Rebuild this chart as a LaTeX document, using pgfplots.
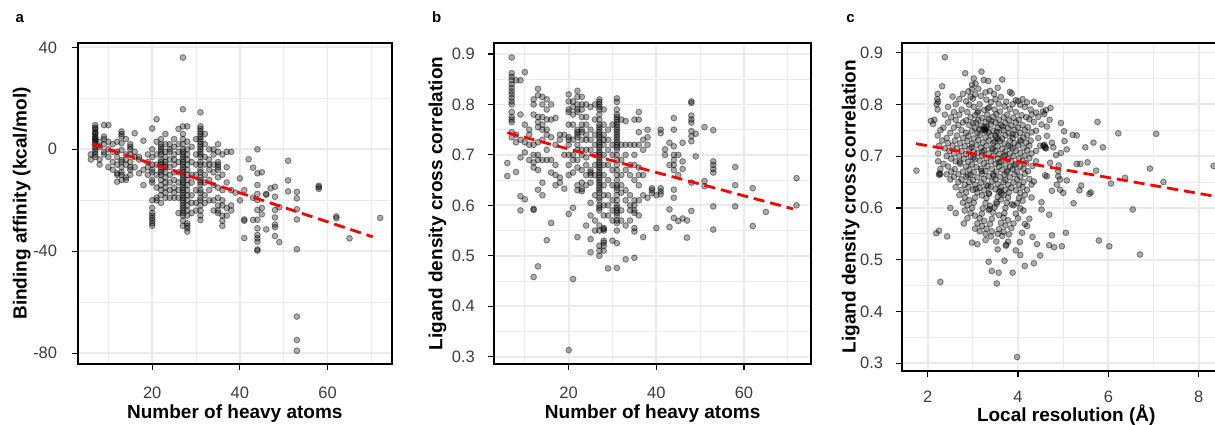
\documentclass[border=0pt]{standalone}
\usepackage{pgfplots}
\pgfplotsset{compat=1.18}
\usepackage{fontspec}
\setmainfont{Liberation Sans}
\definecolor{gridc}{RGB}{235,235,235}
\definecolor{tickc}{RGB}{60,60,60}
\pgfplotsset{
 myax/.style={
   scale only axis,
   anchor=south west,
   axis line style={line width=2.2pt, black},
   tick align=outside,
   xtick pos=left, ytick pos=left,
   major tick length=6pt,
   minor tick length=0pt,
   major tick style={line width=1.2pt, black},
   grid=both,
   major grid style={draw=gridc, line width=1.7pt},
   minor grid style={draw=gridc, line width=0.9pt},
   xticklabel style={font=\fontsize{16.5}{18}\selectfont, text=tickc, inner sep=0pt, anchor=north},
   yticklabel style={font=\fontsize{16.5}{18}\selectfont, text=tickc, inner sep=0pt, anchor=east},
   label style={font=\bfseries\fontsize{19}{21}\selectfont},
   clip marker paths=true,
 },
 pts/.style={only marks, mark=*, mark size=2.9pt, mark options={draw=black, fill=black, draw opacity=0.42, fill opacity=0.32, line width=0.9pt}},
 fitl/.style={red, line width=2.8pt, dash pattern=on 11pt off 6pt, no marks},
}
\begin{document}
\begin{tikzpicture}
\useasboundingbox (0,0) rectangle (1215pt,425pt);
\clip (0,0) rectangle (1215pt,425pt);
\node[font=\bfseries\fontsize{15}{16}\selectfont, anchor=base] at (19.9pt,402pt) {a};
\node[font=\bfseries\fontsize{15}{16}\selectfont, anchor=base] at (436.8pt,402pt) {b};
\node[font=\bfseries\fontsize{15}{16}\selectfont, anchor=base] at (850.5pt,402pt) {c};
% ---------------- panel a
\begin{axis}[myax,
  at={(77.7pt,61pt)}, width=314.3pt, height=321pt,
  xmin=3.0, xmax=74.7, ymin=-84.2, ymax=41.7,
  xtick={20,40,60}, xticklabels={20,40,60},
  minor xtick={10,30,50,70},
  ytick={-80,-40,0,40}, yticklabels={-80,-40,0,40},
  minor ytick={-60,-20,20},
  xticklabel style={yshift=-16.8pt},
  yticklabel style={xshift=-14.4pt},
  xlabel={Number of heavy atoms},
  ylabel={Binding affinity (kcal/mol)},
  xlabel style={at={([yshift=-49.3pt]axis description cs:0.5,0)}, anchor=center},
  ylabel style={at={([xshift=-56pt]axis description cs:0,0.5)}, anchor=center, rotate=0},
]
\addplot[pts] coordinates {
(6,-2)(6,-4)
(7,9.5)(7,8.5)(7,8)(7,7)(7,6)(7,5)(7,4.5)(7,4)(7,3)(7,2)(7,1)(7,0)(7,-1)(7,-2)(7,-3)(7,6.5)(7,3.5)
(8,-4)(8,-6)(8,1)(8,3)
(9,9.5)(9,5)(9,4)(9,2)(9,-2)(9,-1)
(10,9.5)(10,3)(10,-3)(10,-7)(10,0)
(11,2)(11,-5)(11,-8)(11,-1)
(12,3)(12,-3)(12,-6)(12,-9.4)(12,-12.7)(12,-1)(12,-10)
(13,7)(13,6)(13,5)(13,2.4)(13,-0.3)(13,-4.2)(13,-5)(13,-7)(13,-9)(13,-10)(13,-12)
(14,4)(14,-2)(14,-6)(14,-11)(14,-12)(14,-4)
(15,2)(15,1)(15,0)(15,-2)(15,-5)(15,-7)(15,-10)(15,-8)
(16,6.3)(16,-3)(16,-7)(16,-1)
(17,-3)(17,-4)(17,-9.4)
(18,3.4)(18,-8)(18,-14)
(19,-2)(19,-10)(19,-7)(19,-5)
(20,8.2)(20,0)(20,-3)(20,-6)(20,-8)(20,-12)(20,-13)(20,-20)(20,-23)(20,-25)(20,-26)(20,-27)(20,-28)(20,-29)(20,-30)(20,-9)
(21,11.8)(21,3)(21,-2)(21,-6)(21,-10)(21,-15)(21,-19)(21,-20)
(22,4)(22,2)(22,1)(22,0)(22,-1)(22,-2)(22,-4)(22,-5)(22,-6)(22,-7)(22,-8)(22,-9)(22,-10)(22,-12)(22,-14)(22,-16)(22,-18)(22,-21)
(23,6)(23,2)(23,-1)(23,-3)(23,-5)(23,-6)(23,-7)(23,-9)(23,-11)(23,-13)(23,-15)(23,-17)(23,-19)
(24,2)(24,0)(24,-1)(24,-4)(24,-7)(24,-10)(24,-13)(24,-16)(24,-19)
(25,4)(25,1)(25,-2)(25,-4)(25,-6)(25,-9)(25,-12)(25,-15)(25,-17)(25,-19)
(26,8)(26,2)(26,-1)(26,-5)(26,-9)(26,-13)(26,-16)(26,-19)(26,-25)
(27,36)(27,15.7)(27,9)(27,6)(27,4)(27,2)(27,0)(27,-1)(27,-2)(27,-3)(27,-4)(27,-5)(27,-6)(27,-7)(27,-8)(27,-9)(27,-10)(27,-11)(27,-12)(27,-13)(27,-14)(27,-15)(27,-16)(27,-17)(27,-18)(27,-19)(27,-20)(27,-21)(27,-22)(27,-23)(27,-24)(27,-25)(27,-26)(27,-28)(27,-30)
(28,9)(28,3)(28,0)(28,-2)(28,-4)(28,-6)(28,-8)(28,-10)(28,-12)(28,-14)(28,-16)(28,-18)(28,-20)(28,-22)(28,-24)(28,-26)(28,-29)(28,-30)(28,-31)(28,-32.3)
(29,1)(29,-5)(29,-10)(29,-13)(29,-18)(29,-21)(29,-25)
(30,4)(30,-2)(30,-6)(30,-10)(30,-16)(30,-21)(30,-24)
(31,14.5)(31,9)(31,8)(31,7)(31,6)(31,5)(31,4)(31,3)(31,2)(31,1)(31,0)(31,-1)(31,-2)(31,-3)(31,-5)(31,-6)(31,-8)(31,-9)(31,-11)(31,-12)(31,-13)(31,-14)(31,-16)(31,-17)(31,-19)(31,-20)(31,-22)(31,-24)(31,-26)(31,-27.7)
(32,6)(32,2)(32,-3)(32,-6)(32,-10)(32,-13)(32,-18)(32,-21)
(33,0)(33,-4)(33,-6)(33,-8)(33,-12)(33,-16)(33,-20)
(34,0)(34,-2)(34,-6)(34,-9)(34,-14)(34,-20)(34,-24)
(35,2)(35,-1)(35,-5)(35,-6)(35,-7)(35,-8)(35,-11)(35,-15)(35,-19)(35,-22)(35,-24)(35,-25)
(36,-2)(36,-10)(36,-16)(36,-20)(36,-22)(36,-26)(36,-28)(36,-30)
(37,-1)(37,-7)(37,-13)(37,-23)(37,-26)
(38,-1)(38,-16)(38,-22)(38,-24)
(39,-17)
(40,-11.4)(40,-20)
(41,-16)(41,-27.5)(41,-28)(41,-34.8)
(42,-3.9)
(43,-7.2)(43,-19)(43,-27.7)
(44,0)(44,-9.4)(44,-14)(44,-17.5)(44,-19.9)(44,-23.8)(44,-27.6)(44,-31)(44,-33.6)(44,-34.9)(44,-36.2)(44,-39.3)(44,-39.7)
(45,-9)(45,-25.5)(45,-23)
(46,-17.5)(46,-17.8)(46,-31.4)
(47,-15.3)
(48,-14.7)(48,-18.6)(48,-23.8)(48,-26.7)(48,-29.5)(48,-30.5)(48,-34)
(49,-22.7)(49,-36.4)
(51,-4.5)(51,-12.2)(51,-16.5)
(53,-16.7)(53,-19.2)(53,-23.5)(53,-27.5)(53,-39.2)(53,-65.6)(53,-74.8)(53,-79)
(58,-14.3)(58,-14.8)(58,-15.5)
(62,-26.3)(62,-27)
(65,-34.9)
(72,-26.9)
};
\addplot[fitl] coordinates {(6.3,2.1)(70.3,-34.3)};
\end{axis}
% ---------------- panel b
\begin{axis}[myax,
  at={(494.3pt,61pt)}, width=316.7pt, height=321pt,
  xmin=3.03, xmax=75.3, ymin=0.2855, ymax=0.9218,
  xtick={20,40,60}, xticklabels={20,40,60},
  minor xtick={10,30,50,70},
  ytick={0.3,0.4,0.5,0.6,0.7,0.8,0.9}, yticklabels={0.3,0.4,0.5,0.6,0.7,0.8,0.9},
  minor ytick={0.35,0.45,0.55,0.65,0.75,0.85},
  xticklabel style={yshift=-16.8pt},
  yticklabel style={xshift=-13.3pt},
  xlabel={Number of heavy atoms},
  ylabel={Ligand density cross correlation},
  xlabel style={at={([yshift=-49.3pt]axis description cs:0.5,0)}, anchor=center},
  ylabel style={at={([xshift=-56.8pt]axis description cs:0,0.5)}, anchor=center, rotate=0},
]
\addplot[pts] coordinates {
(6,0.684)(6,0.658)
(7,0.893)(7,0.862)(7,0.855)(7,0.848)(7,0.84)(7,0.833)(7,0.826)(7,0.82)(7,0.813)(7,0.806)(7,0.80)(7,0.785)(7,0.775)(7,0.77)(7,0.765)(7,0.745)(7,0.735)
(8,0.848)(8,0.725)(8,0.666)(8,0.74)
(9,0.848)(9,0.78)(9,0.73)(9,0.695)(9,0.618)(9,0.59)
(10,0.864)(10,0.76)(10,0.725)(10,0.705)(10,0.612)
(11,0.75)(11,0.74)(11,0.72)(11,0.69)
(12,0.81)(12,0.80)(12,0.78)(12,0.72)(12,0.70)(12,0.685)(12,0.675)(12,0.593)(12,0.591)(12,0.458)
(13,0.831)(13,0.818)(13,0.775)(13,0.765)(13,0.755)(13,0.725)(13,0.70)(13,0.69)(13,0.631)(13,0.479)(13,0.67)
(14,0.815)(14,0.80)(14,0.775)(14,0.76)(14,0.75)(14,0.73)(14,0.69)(14,0.62)(14,0.645)
(15,0.81)(15,0.79)(15,0.77)(15,0.75)(15,0.74)(15,0.71)(15,0.69)(15,0.531)
(16,0.80)(16,0.77)(16,0.735)(16,0.69)(16,0.565)(16,0.665)
(17,0.773)(17,0.72)(17,0.66)(17,0.64)(17,0.68)
(18,0.74)(18,0.73)(18,0.655)(18,0.645)
(19,0.70)(19,0.633)(19,0.74)
(20,0.82)(20,0.806)(20,0.79)(20,0.785)(20,0.76)(20,0.735)(20,0.72)(20,0.70)(20,0.68)(20,0.66)(20,0.583)(20,0.313)(20,0.73)
(21,0.806)(21,0.795)(21,0.78)(21,0.76)(21,0.73)(21,0.70)(21,0.69)(21,0.665)(21,0.595)(21,0.454)
(22,0.827)(22,0.815)(22,0.80)(22,0.79)(22,0.785)(22,0.75)(22,0.745)(22,0.74)(22,0.735)(22,0.72)(22,0.71)(22,0.69)(22,0.675)(22,0.64)(22,0.63)(22,0.537)
(23,0.815)(23,0.80)(23,0.79)(23,0.775)(23,0.76)(23,0.75)(23,0.745)(23,0.73)(23,0.71)(23,0.70)(23,0.67)(23,0.645)(23,0.628)(23,0.632)
(24,0.80)(24,0.775)(24,0.76)(24,0.74)(24,0.73)(24,0.71)(24,0.695)(24,0.68)(24,0.66)(24,0.64)(24,0.56)
(25,0.795)(25,0.75)(25,0.73)(25,0.71)(25,0.67)(25,0.665)(25,0.66)(25,0.645)(25,0.605)(25,0.58)(25,0.533)(25,0.507)
(26,0.80)(26,0.77)(26,0.74)(26,0.72)(26,0.70)(26,0.68)(26,0.66)(26,0.62)(26,0.55)(26,0.57)
(27,0.81)(27,0.805)(27,0.80)(27,0.795)(27,0.79)(27,0.78)(27,0.77)(27,0.76)(27,0.755)(27,0.75)(27,0.745)(27,0.74)(27,0.735)(27,0.73)(27,0.725)(27,0.72)(27,0.715)(27,0.71)(27,0.705)(27,0.70)(27,0.695)(27,0.69)(27,0.685)(27,0.68)(27,0.675)(27,0.67)(27,0.665)(27,0.66)(27,0.655)(27,0.65)(27,0.645)(27,0.64)(27,0.635)(27,0.63)(27,0.625)(27,0.615)(27,0.61)(27,0.60)(27,0.595)(27,0.59)(27,0.56)(27,0.55)(27,0.52)(27,0.51)(27,0.50)
(28,0.79)(28,0.76)(28,0.74)(28,0.73)(28,0.72)(28,0.70)(28,0.68)(28,0.66)(28,0.64)(28,0.62)(28,0.60)(28,0.58)(28,0.555)(28,0.553)(28,0.55)(28,0.53)(28,0.526)(28,0.52)(28,0.51)
(29,0.75)(29,0.73)(29,0.71)(29,0.68)(29,0.65)(29,0.62)(29,0.60)(29,0.58)(29,0.475)
(30,0.76)(30,0.72)(30,0.70)(30,0.67)(30,0.64)(30,0.61)(30,0.59)(30,0.57)(30,0.53)
(31,0.812)(31,0.805)(31,0.79)(31,0.78)(31,0.775)(31,0.77)(31,0.765)(31,0.76)(31,0.755)(31,0.75)(31,0.745)(31,0.74)(31,0.735)(31,0.73)(31,0.725)(31,0.72)(31,0.715)(31,0.71)(31,0.70)(31,0.69)(31,0.68)(31,0.67)(31,0.66)(31,0.65)(31,0.64)(31,0.635)(31,0.63)(31,0.62)(31,0.61)(31,0.60)(31,0.595)(31,0.59)(31,0.585)(31,0.58)(31,0.57)(31,0.565)(31,0.55)(31,0.525)(31,0.476)
(32,0.77)(32,0.72)(32,0.69)(32,0.66)(32,0.64)(32,0.625)(32,0.59)(32,0.57)
(33,0.767)(33,0.72)(33,0.70)(33,0.67)(33,0.63)(33,0.61)(33,0.56)(33,0.493)
(34,0.72)(34,0.68)(34,0.66)(34,0.62)(34,0.60)(34,0.59)(34,0.57)
(35,0.77)(35,0.72)(35,0.70)(35,0.68)(35,0.65)(35,0.61)(35,0.60)(35,0.59)(35,0.585)(35,0.555)(35,0.548)(35,0.496)
(36,0.785)(36,0.77)(36,0.745)(36,0.72)(36,0.675)(36,0.66)(36,0.64)(36,0.61)(36,0.58)
(37,0.73)(37,0.71)(37,0.66)(37,0.62)(37,0.537)
(38,0.75)(38,0.735)(38,0.72)(38,0.615)
(39,0.634)(39,0.624)(39,0.63)
(40,0.555)(40,0.62)
(41,0.75)(41,0.743)(41,0.634)(41,0.628)(41,0.622)
(42,0.711)(42,0.70)
(43,0.724)(43,0.592)(43,0.557)(43,0.68)
(44,0.773)(44,0.75)(44,0.717)(44,0.70)(44,0.69)(44,0.68)(44,0.67)(44,0.631)(44,0.615)(44,0.575)
(45,0.70)(45,0.569)(45,0.66)
(46,0.724)(46,0.687)(46,0.672)(46,0.574)
(47,0.536)(47,0.57)
(48,0.806)(48,0.803)(48,0.778)(48,0.77)(48,0.764)(48,0.747)(48,0.737)(48,0.727)(48,0.645)(48,0.589)
(49,0.742)(49,0.697)
(51,0.755)(51,0.648)(51,0.638)
(53,0.749)(53,0.687)(53,0.68)(53,0.672)(53,0.665)(53,0.598)(53,0.552)
(58,0.676)(58,0.64)(58,0.598)
(62,0.634)(62,0.559)
(65,0.587)
(72,0.654)(72,0.60)
};
\addplot[fitl] coordinates {(6.0,0.744)(71.2,0.593)};
\end{axis}
% ---------------- panel c
\begin{axis}[myax,
  at={(901.7pt,54.3pt)}, width=329pt, height=328pt,
  xmin=1.424, xmax=8.71, ymin=0.2857, ymax=0.919,
  xtick={2,4,6,8}, xticklabels={2,4,6,8},
  minor xtick={3,5,7},
  ytick={0.3,0.4,0.5,0.6,0.7,0.8,0.9}, yticklabels={0.3,0.4,0.5,0.6,0.7,0.8,0.9},
  minor ytick={0.35,0.45,0.55,0.65,0.75,0.85},
  xticklabel style={yshift=-14pt},
  yticklabel style={xshift=-12.4pt},
  xlabel={Local resolution (Å)},
  ylabel={Ligand density cross correlation},
  xlabel style={at={([yshift=-44.3pt]axis description cs:0.5,0)}, anchor=center},
  ylabel style={at={([xshift=-50.9pt]axis description cs:0,0.5)}, anchor=center, rotate=0},
]
\addplot[pts] coordinates {
(2.38,0.891)(3.98,0.312)(2.28,0.457)
(2.83,0.86)(3.19,0.863)
(3.02,0.85)(3.24,0.847)(3.65,0.848)(3.34,0.845)
(2.98,0.838)(2.32,0.835)(3.06,0.84)
(2.98,0.829)(3.12,0.83)(3.55,0.832)
(2.90,0.825)(3.38,0.826)(3.82,0.824)(3.28,0.823)
(2.22,0.82)(2.78,0.82)(3.05,0.819)(3.47,0.82)(3.86,0.821)
(2.55,0.815)(3.18,0.816)(3.62,0.814)(2.95,0.815)
(2.21,0.81)(2.70,0.81)(3.00,0.811)(3.30,0.809)(3.50,0.81)(3.95,0.808)(4.10,0.81)
(2.23,0.805)(2.85,0.806)(3.40,0.804)(3.74,0.805)(4.00,0.806)(4.20,0.804)(4.35,0.805)
(2.20,0.80)(2.62,0.80)(2.92,0.799)(3.15,0.80)(3.57,0.801)(3.88,0.80)(4.05,0.799)(4.50,0.80)
(2.45,0.795)(3.02,0.795)(3.36,0.794)(3.70,0.796)(4.15,0.795)(4.72,0.793)
(2.22,0.79)(2.75,0.79)(3.25,0.789)(3.48,0.79)(3.82,0.791)(4.28,0.79)(4.62,0.789)(4.55,0.786)
(2.58,0.785)(2.88,0.785)(3.10,0.784)(3.60,0.786)(3.95,0.785)(4.40,0.784)
(2.38,0.78)(2.70,0.78)(3.05,0.779)(3.32,0.78)(3.52,0.781)(3.76,0.78)(4.08,0.779)(4.30,0.78)(4.58,0.781)
(2.52,0.775)(2.95,0.775)(3.20,0.774)(3.45,0.776)(3.68,0.775)(3.90,0.774)(4.18,0.775)(4.45,0.776)
(2.15,0.77)(2.62,0.77)(2.85,0.769)(3.12,0.77)(3.35,0.771)(3.58,0.77)(3.80,0.769)(4.02,0.77)(4.25,0.771)(4.70,0.77)
(2.07,0.768)(2.45,0.765)(2.78,0.765)(3.00,0.764)(3.28,0.766)(3.50,0.765)(3.72,0.764)(3.95,0.765)(4.35,0.766)(4.95,0.764)(5.76,0.766)
(2.12,0.762)(2.68,0.76)(2.92,0.76)(3.18,0.759)(3.40,0.761)(3.62,0.76)(3.85,0.759)(4.10,0.76)(4.52,0.761)
(2.35,0.755)(2.58,0.755)(3.05,0.754)(3.25,0.756)(3.30,0.753)(3.55,0.755)(3.78,0.754)(4.00,0.755)(4.22,0.756)(4.64,0.757)
(2.28,0.75)(2.75,0.75)(2.98,0.749)(3.22,0.751)(3.28,0.75)(3.45,0.749)(3.68,0.75)(3.92,0.751)(4.15,0.75)(4.40,0.749)(5.02,0.748)
(2.50,0.745)(2.85,0.745)(3.10,0.744)(3.35,0.746)(3.58,0.745)(3.80,0.744)(4.05,0.745)(4.30,0.746)(6.22,0.744)(7.06,0.743)(5.21,0.741)
(2.22,0.74)(2.65,0.74)(2.90,0.739)(3.15,0.741)(3.40,0.74)(3.50,0.739)(3.72,0.74)(3.95,0.741)(4.20,0.74)(4.64,0.739)(5.30,0.74)
(2.42,0.735)(2.78,0.735)(3.02,0.734)(3.28,0.736)(3.52,0.735)(3.65,0.734)(3.88,0.735)(4.12,0.736)(4.45,0.735)
(2.32,0.73)(2.60,0.73)(2.88,0.729)(3.12,0.731)(3.35,0.73)(3.60,0.729)(3.82,0.73)(4.05,0.731)(4.28,0.73)(5.03,0.729)
(2.45,0.725)(2.72,0.725)(2.98,0.724)(3.22,0.726)(3.45,0.725)(3.70,0.724)(3.92,0.725)(4.18,0.726)(4.75,0.726)(5.67,0.726)
(2.25,0.72)(2.55,0.72)(2.82,0.719)(3.08,0.721)(3.30,0.72)(3.55,0.719)(3.78,0.72)(4.00,0.721)(4.25,0.72)(4.49,0.72)(4.56,0.72)(4.60,0.718)
(2.38,0.715)(2.65,0.715)(2.92,0.714)(3.18,0.716)(3.42,0.715)(3.65,0.714)(3.88,0.715)(4.12,0.716)(4.62,0.715)(4.78,0.717)(5.49,0.717)(5.88,0.717)(5.08,0.713)
(2.48,0.71)(2.75,0.71)(3.02,0.709)(3.25,0.711)(3.50,0.71)(3.72,0.709)(3.95,0.71)(4.20,0.711)(4.40,0.71)
(2.23,0.705)(2.58,0.705)(2.85,0.704)(3.10,0.706)(3.35,0.705)(3.58,0.704)(3.82,0.705)(4.05,0.706)(4.30,0.705)(4.95,0.706)
(2.42,0.70)(2.70,0.70)(2.95,0.699)(3.20,0.701)(3.45,0.70)(3.68,0.699)(3.90,0.70)(4.15,0.701)(4.84,0.702)
(2.52,0.695)(2.80,0.695)(3.05,0.694)(3.30,0.696)(3.55,0.695)(3.78,0.694)(4.02,0.695)(4.25,0.696)
(2.23,0.69)(2.62,0.69)(2.90,0.689)(3.15,0.691)(3.40,0.69)(3.62,0.689)(3.85,0.69)(4.10,0.691)(4.40,0.69)(5.54,0.688)
(2.35,0.685)(2.72,0.685)(2.98,0.684)(3.25,0.686)(3.50,0.685)(3.72,0.684)(3.95,0.685)(4.18,0.686)(4.71,0.687)(5.30,0.685)(5.38,0.685)
(2.45,0.68)(2.85,0.68)(3.08,0.679)(3.32,0.681)(3.58,0.68)(3.82,0.679)(4.05,0.68)(4.32,0.681)(4.90,0.682)(8.33,0.681)
(2.28,0.675)(2.60,0.675)(2.92,0.674)(3.18,0.676)(3.42,0.675)(3.65,0.674)(3.88,0.675)(4.12,0.676)(6.92,0.676)
(1.75,0.672)(2.52,0.67)(2.78,0.67)(3.02,0.669)(3.28,0.671)(3.52,0.67)(3.75,0.669)(3.98,0.67)(4.22,0.671)(4.89,0.671)(5.73,0.672)
(2.25,0.664)(2.42,0.665)(2.68,0.665)(2.95,0.664)(3.20,0.666)(3.45,0.665)(3.70,0.664)(3.92,0.665)(4.15,0.666)(4.60,0.663)
(2.58,0.66)(2.85,0.66)(3.10,0.659)(3.35,0.661)(3.60,0.66)(3.82,0.659)(4.05,0.66)(4.64,0.661)(4.89,0.661)(6.37,0.658)
(2.50,0.655)(2.75,0.655)(3.00,0.654)(3.25,0.656)(3.50,0.655)(3.72,0.654)(3.98,0.655)(4.25,0.656)(4.93,0.655)(5.08,0.653)
(2.68,0.65)(2.92,0.65)(3.18,0.649)(3.42,0.651)(3.68,0.65)(3.90,0.649)(4.12,0.65)(4.35,0.651)(7.22,0.65)
(2.82,0.645)(3.05,0.645)(3.30,0.644)(3.55,0.646)(3.78,0.645)(4.02,0.644)(4.30,0.645)(4.86,0.645)(6.06,0.647)(5.40,0.643)
(2.62,0.64)(2.90,0.64)(3.15,0.639)(3.40,0.641)(3.62,0.64)(3.85,0.639)(4.10,0.64)
(2.75,0.635)(3.00,0.635)(3.25,0.634)(3.50,0.636)(3.72,0.635)(3.95,0.634)(4.20,0.635)(4.75,0.633)(4.93,0.635)(5.36,0.634)
(2.85,0.63)(3.10,0.63)(3.35,0.629)(3.58,0.631)(3.80,0.63)(4.05,0.629)(5.0,0.629)(5.58,0.627)(5.61,0.63)
(2.70,0.625)(3.20,0.624)(3.68,0.625)(4.15,0.625)
(2.82,0.62)(3.05,0.62)(3.30,0.619)(3.55,0.621)(3.78,0.62)(4.02,0.619)(4.30,0.62)
(2.92,0.615)(3.62,0.616)(4.10,0.614)
(2.78,0.61)(3.02,0.61)(3.28,0.609)(3.52,0.611)(3.75,0.61)(3.98,0.609)(4.52,0.611)(5.23,0.609)
(2.88,0.605)(3.38,0.604)(3.90,0.605)
(2.50,0.60)(2.98,0.60)(3.22,0.599)(3.48,0.601)(3.72,0.60)(4.05,0.599)(4.52,0.597)(6.54,0.597)
(2.82,0.595)(3.35,0.596)(4.12,0.595)
(2.62,0.59)(2.95,0.59)(3.20,0.589)(3.45,0.591)(3.70,0.59)(3.95,0.589)(4.69,0.587)
(3.05,0.585)(3.58,0.586)
(2.88,0.58)(3.15,0.58)(3.42,0.579)(3.68,0.581)(4.00,0.58)(4.25,0.579)
(3.25,0.575)(3.78,0.576)
(2.80,0.57)(3.10,0.57)(3.38,0.569)(3.62,0.571)(3.90,0.57)(4.15,0.569)
(3.20,0.565)(3.72,0.566)(4.20,0.565)
(3.05,0.56)(3.30,0.56)(3.58,0.559)(3.85,0.561)(4.09,0.552)
(2.25,0.556)(3.15,0.555)(3.42,0.555)(3.68,0.554)(4.32,0.544)
(2.19,0.551)(3.28,0.55)(3.55,0.55)(3.80,0.549)(4.75,0.547)(5.06,0.552)
(2.43,0.545)(3.40,0.545)(3.65,0.546)
(3.28,0.538)(3.78,0.535)(4.04,0.534)
(2.98,0.533)(3.52,0.535)(5.79,0.537)
(3.73,0.527)(3.74,0.529)(4.42,0.53)(4.69,0.528)(3.10,0.53)
(4.97,0.526)(6.02,0.526)(4.80,0.524)
(3.55,0.52)(3.95,0.518)
(4.05,0.509)(6.70,0.51)(4.49,0.508)
(3.70,0.498)(3.35,0.496)
(4.35,0.493)(4.15,0.488)
(3.42,0.478)(3.57,0.475)(3.88,0.475)(3.53,0.454)
(3.26,0.752)(3.27,0.748)(3.31,0.757)(3.53,0.747)(3.56,0.733)(3.48,0.728)(3.33,0.792)(3.12,0.787)
(3.61,0.633)(3.63,0.628)(3.33,0.642)(3.36,0.627)(3.71,0.702)(3.44,0.713)(3.83,0.718)(4.58,0.722)(4.60,0.716)
(3.07,0.765)(3.14,0.752)(3.41,0.768)(3.66,0.757)(3.88,0.742)(4.06,0.728)(3.21,0.708)(2.97,0.717)
(3.19,0.671)(3.46,0.662)(2.89,0.663)(2.71,0.688)(3.58,0.688)(3.77,0.672)(3.92,0.682)(3.01,0.697)
(2.28,0.665)(2.26,0.667)(3.53,0.608)(3.37,0.598)(3.86,0.607)(3.07,0.637)
};
\addplot[fitl] coordinates {(1.74,0.724)(8.65,0.618)};
\end{axis}
\end{tikzpicture}
\end{document}
